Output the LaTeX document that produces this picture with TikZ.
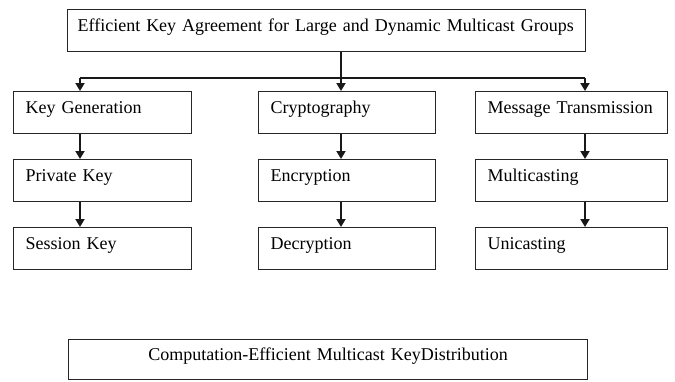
\documentclass[tikz,border=0pt]{standalone}
\usepackage{fontspec}
\setmainfont[WordSpace=0.65]{Liberation Serif}
\usetikzlibrary{arrows.meta}
\begin{document}
\begin{tikzpicture}[x=1pt,y=-1pt,
  box/.style={draw=black!85, line width=1.2pt, rectangle, anchor=north west,
    font=\fontsize{18}{20}\selectfont, inner ysep=7pt, text height=15pt, text depth=13pt},
  cell/.style={box, inner xsep=12pt, align=left},
  conn/.style={draw=black!90, line width=1.3pt},
  arr/.style={draw=black!90, line width=1.8pt, -{Triangle[length=8pt,width=9pt]}}
]
\useasboundingbox (0,0) rectangle (675,381);

% column axes and the branching bus
\coordinate (c1) at (80,0);
\coordinate (c2) at (341,0);
\coordinate (c3) at (585,0);
\coordinate (bus) at (0,78);

% heading
\node[box, inner xsep=10pt, text width=498pt, align=left] (title) at (67,9)
  {Efficient Key Agreement for Large and Dynamic Multicast Groups};

% first column
\node[cell, text width=154pt] (kg) at (13,91)  {Key Generation};
\node[cell, text width=154pt] (pk) at (13,159) {Private Key};
\node[cell, text width=154pt] (sk) at (13,227) {Session Key};

% second column
\node[cell, text width=153pt] (cr) at (258,91)  {Cryptography};
\node[cell, text width=153pt] (en) at (258,159) {Encryption};
\node[cell, text width=153pt] (de) at (258,227) {Decryption};

% third column
\node[cell, text width=168pt] (mt) at (475,91)  {Message Transmission};
\node[cell, text width=168pt] (mc) at (475,159) {Multicasting};
\node[cell, text width=168pt] (uc) at (475,227) {Unicasting};

% footer
\node[box, inner xsep=0pt, text width=519pt, align=center, inner ysep=6pt] (cm) at (68,339)
  {Computation-Efficient Multicast KeyDistribution};

% branching from the heading
\draw[conn] (title.south -| c2) -- (bus -| c2);
\draw[conn] (bus -| c1) -- (bus -| c3);
\draw[arr] (bus -| c1) -- (kg.north -| c1);
\draw[arr] (bus -| c2) -- (cr.north -| c2);
\draw[arr] (bus -| c3) -- (mt.north -| c3);

% chains inside the columns
\draw[arr] (kg.south -| c1) -- (pk.north -| c1);
\draw[arr] (pk.south -| c1) -- (sk.north -| c1);
\draw[arr] (cr.south -| c2) -- (en.north -| c2);
\draw[arr] (en.south -| c2) -- (de.north -| c2);
\draw[arr] (mt.south -| c3) -- (mc.north -| c3);
\draw[arr] (mc.south -| c3) -- (uc.north -| c3);
\end{tikzpicture}
\end{document}
